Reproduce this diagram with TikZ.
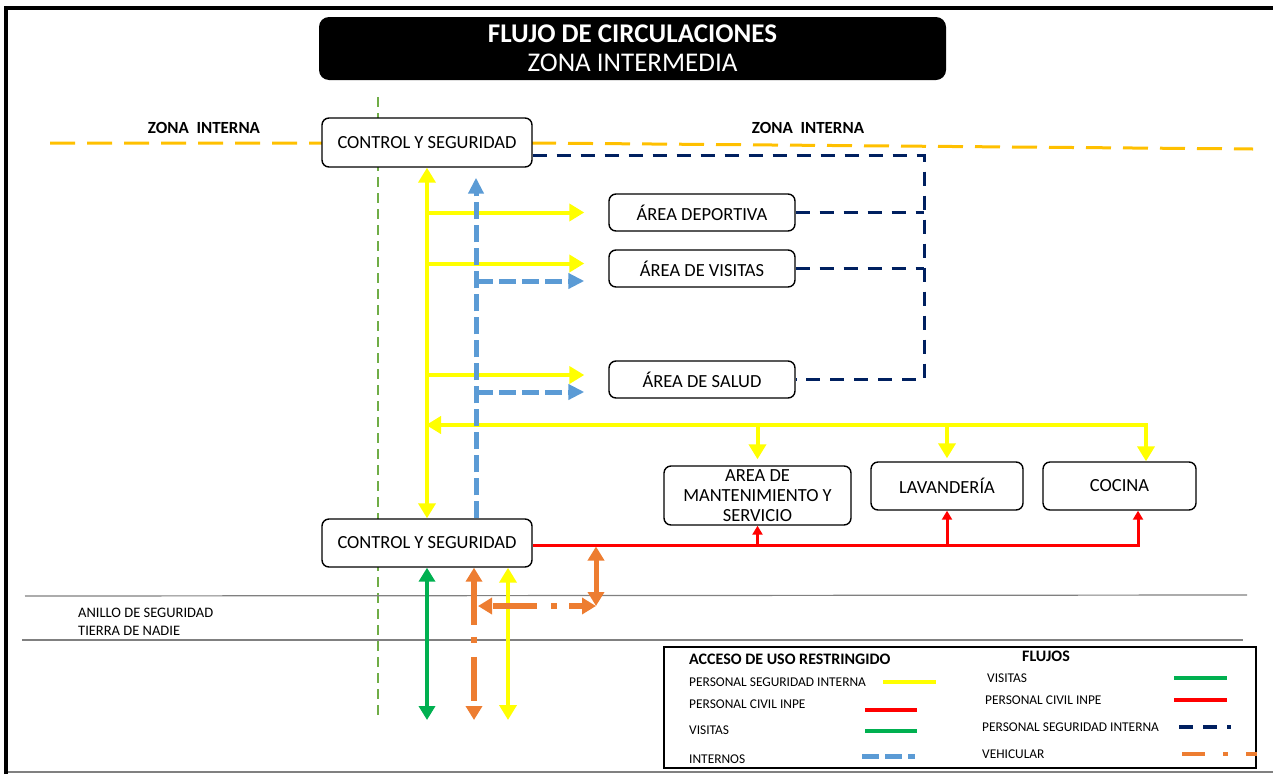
\documentclass[tikz,border=0pt]{standalone}
\usepackage{fontspec}
\setmainfont{Carlito}
\usepackage{tikz}
\usetikzlibrary{arrows.meta, positioning}

\definecolor{zonaorange}{HTML}{FFC000}
\definecolor{psiyellow}{HTML}{FFFF00}
\definecolor{intblue}{HTML}{5B9BD5}
\definecolor{psinavy}{HTML}{002060}
\definecolor{visgreen}{HTML}{00B050}
\definecolor{civred}{HTML}{FF0000}
\definecolor{vehorange}{HTML}{ED7D31}
\definecolor{limitgreen}{HTML}{70AD47}

\begin{document}
\begin{tikzpicture}[x=1pt, y=-1pt,
    area/.style={draw, rounded corners=7pt, line width=1.4pt, fill=white, inner sep=0pt,
        font=\fontsize{18.5}{20}\selectfont, align=center},
    titlebox/.style={fill=black, text=white, rounded corners=10pt, inner sep=0pt,
        minimum width=627pt, minimum height=63pt, align=center, font=\fontsize{27}{29}\selectfont},
    zonelabel/.style={font=\fontsize{17}{20}\selectfont\bfseries, inner sep=0pt},
    note/.style={font=\fontsize{14.5}{17}\selectfont, anchor=west, inner sep=0pt},
    legtext/.style={font=\fontsize{13.4}{16}\selectfont, anchor=west, inner sep=0pt},
    leghead/.style={font=\fontsize{16}{18}\selectfont\bfseries, inner sep=0pt},
    zoneline/.style={draw=zonaorange, line width=3pt, dash pattern=on 25pt off 12pt},
    limitline/.style={draw=limitgreen, line width=2.8pt, dash pattern=on 10pt off 6pt},
    ringline/.style={draw=gray, line width=1.2pt},
    yellowflow/.style={draw=psiyellow, line width=4pt, >={Triangle[length=15pt,width=17pt]}},
    intflow/.style={draw=intblue, line width=5pt, dash pattern=on 17pt off 6pt,
        >={Triangle[length=16pt,width=15pt]}},
    psiflow/.style={draw=psinavy, line width=3pt, dash pattern=on 14pt off 10pt},
    civflow/.style={draw=civred, line width=3pt, >={Triangle[length=9pt,width=10pt]}},
    visflow/.style={draw=visgreen, line width=4.5pt, >={Triangle[length=14pt,width=16pt]}},
    vehflow/.style={draw=vehorange, line width=5.5pt, dash pattern=on 44pt off 12pt on 6pt off 14pt,
        >={Triangle[length=14pt,width=16pt]}},
    vehsolid/.style={draw=vehorange, line width=5pt, >={Triangle[length=14pt,width=16pt]}}
]
    \useasboundingbox (0,0) rectangle (1273,774);

    % frame and zone limits
    \draw[line width=4pt] (6,774) -- (6,8) -- (1273,8);
    \draw[gray, line width=1.5pt] (8,772) -- (1273,772);
    \draw[zoneline] (50,143) -- (532,143) -- (1253,149);
    \draw[limitline] (378,97) -- (378,720);
    \draw[ringline] (25,596) -- (1247,595);
    \draw[ringline] (22,640) -- (1243,640);

    % Define the nodes
    \node[titlebox] (title) at (632.5,48.5) {\textbf{FLUJO DE CIRCULACIONES}\\ZONA INTERMEDIA};
    \node[zonelabel] (zoneL) at (204,128) {ZONA~~INTERNA};
    \node[zonelabel] (zoneR) at (808,128) {ZONA~~INTERNA};

    \node[area, minimum width=210pt, minimum height=49pt] (ctop) at (427,142.5) {CONTROL Y SEGURIDAD};
    \node[area, minimum width=210pt, minimum height=48pt] (cbot) at (427,543) {CONTROL Y SEGURIDAD};
    \node[area, minimum width=186pt, minimum height=37pt] (dep) at (702,212.5) {ÁREA DEPORTIVA};
    \node[area, minimum width=186pt, minimum height=37pt] (vis) at (702,268.5) {ÁREA DE VISITAS};
    \node[area, minimum width=186pt, minimum height=37pt] (sal) at (702,379.5) {ÁREA DE SALUD};
    \node[area, minimum width=187pt, minimum height=59pt] (mant) at (757.5,495.5) {AREA DE\\MANTENIMIENTO Y\\SERVICIO};
    \node[area, minimum width=152pt, minimum height=48pt] (lav) at (947,486) {LAVANDERÍA};
    \node[area, minimum width=153pt, minimum height=48pt] (coc) at (1119.5,486) {COCINA};

    \node[note] (anillo) at (78,613) {ANILLO DE SEGURIDAD};
    \node[note] (tierra) at (78,631) {TIERRA DE NADIE};

    \coordinate (serv) at (1146,425);
    \coordinate (psi) at (924,155);
    \coordinate (civ) at (1138,545);
    \coordinate (veh) at (596,606);
    \coordinate (out) at (0,720);

    % Define the transitions
    % personal seguridad interna
    \draw[yellowflow,<->] (ctop) -- (cbot);
    \draw[yellowflow,->,shorten >=24pt] (ctop |- dep.west) -- (dep.west);
    \draw[yellowflow,->,shorten >=24pt] ([yshift=5pt]ctop |- vis.west) -- ([yshift=5pt]vis.west);
    \draw[yellowflow,->,shorten >=24pt] ([yshift=4.5pt]ctop |- sal.west) -- ([yshift=4.5pt]sal.west);
    \draw[yellowflow,<->,shorten >=-1pt] (serv |- coc.north) -- (serv) -- (ctop |- serv);
    \draw[yellowflow,->,shorten >=6pt] (mant |- serv) -- (mant.north);
    \draw[yellowflow,->,shorten >=3pt] (lav |- serv) -- (lav.north);
    \draw[yellowflow,<->] ([xshift=81pt]cbot.south) -- ([xshift=81pt]cbot.south |- out);

    % internos
    \draw[intflow,->,shorten >=10pt] ([xshift=49pt]cbot.north) -- ([xshift=49pt]ctop.south);
    \draw[intflow,->,shorten >=24pt] ([xshift=49pt,yshift=-12.5pt]ctop.south |- vis.west) -- ([yshift=-12.5pt]vis.west);
    \draw[intflow,->,shorten >=24pt] ([xshift=49pt,yshift=-12.5pt]ctop.south |- sal.west) -- ([yshift=-12.5pt]sal.west);

    % personal seguridad interna (flujo)
    \draw[psiflow] ([yshift=-12.5pt]ctop.east) -- (psi) -- (psi |- sal.east) -- (sal.east);
    \draw[psiflow] (dep.east) -- (psi |- dep.east);
    \draw[psiflow] (vis.east) -- (psi |- vis.east);

    % personal civil
    \draw[civflow,->] ([yshift=-2pt]cbot.east) -- (civ) -- (civ |- coc.south);
    \draw[civflow,->] (mant |- civ) -- (mant.south);
    \draw[civflow,->] (lav |- civ) -- (lav.south);

    % visitas and vehicular
    \draw[visflow,<->] (cbot) -- (cbot |- out);
    \draw[vehflow,<->] ([xshift=47pt]cbot.south) -- ([xshift=47pt]cbot.south |- out);
    \draw[vehsolid,<->,shorten <=1.5pt] (veh |- civ) -- (veh);
    \draw[vehflow,<->,shorten >=4pt,dash phase=30pt] (veh) -- ([xshift=47pt]cbot.south |- veh);

    % legend
    \node[draw, line width=2pt, minimum width=592pt, minimum height=121pt, inner sep=0pt] (legend) at (960,707.5) {};
    \node[leghead, anchor=west] (acceso) at (689,659) {ACCESO DE USO RESTRINGIDO};
    \node[legtext] (acc1) at (689,682) {PERSONAL SEGURIDAD INTERNA};
    \node[legtext] (acc2) at (689,704) {PERSONAL CIVIL INPE};
    \node[legtext] (acc3) at (689,730) {VISITAS};
    \node[legtext] (acc4) at (689,759) {INTERNOS};
    \node[leghead] (flujos) at (1046,656) {FLUJOS};
    \node[legtext] (flu1) at (987,678) {VISITAS};
    \node[legtext] (flu2) at (985,700) {PERSONAL CIVIL INPE};
    \node[legtext] (flu3) at (982,727) {PERSONAL SEGURIDAD INTERNA};
    \node[legtext] (flu4) at (982,754) {VEHICULAR};

    \draw[yellowflow] (883,682) -- (936,682);
    \draw[civflow, line width=4pt] (865,710) -- (917,710);
    \draw[visflow, line width=4pt] (865,731) -- (917,731);
    \draw[intflow] (862,756) -- (915,756);
    \draw[visflow, line width=4pt] (1174,678) -- (1227,678);
    \draw[civflow, line width=4pt] (1174,700) -- (1227,700);
    \draw[psiflow, line width=3.5pt] (1179,727) -- (1231,727);
    \draw[vehflow, line width=4.5pt, dash pattern=on 23pt off 18pt on 5pt off 18pt] (1182,754) -- (1257,754);
\end{tikzpicture}
\end{document}
